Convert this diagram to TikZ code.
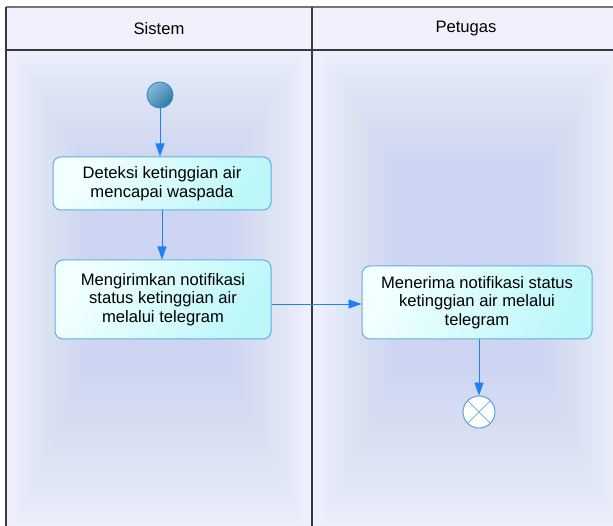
\documentclass[tikz,border=0pt]{standalone}
\usepackage{fontspec}
\setmainfont{Liberation Sans}
\usetikzlibrary{arrows.meta,calc}

\definecolor{lanebg}{HTML}{EDEFFC}
\definecolor{glowc}{HTML}{C3D0F2}
\definecolor{framec}{HTML}{3A3A3A}
\definecolor{boxedge}{HTML}{62AEDF}
\definecolor{boxlight}{HTML}{F2FFFF}
\definecolor{boxdark}{HTML}{BDF7FA}
\definecolor{flowc}{HTML}{1F80F5}
\definecolor{startlight}{HTML}{86BAD8}
\definecolor{startdark}{HTML}{2E7AA6}
\definecolor{startedge}{HTML}{3A86C6}
\definecolor{endedge}{HTML}{4A9AD8}
\definecolor{endcross}{HTML}{7DB8E2}

\tikzset{
  lane/.style={draw=framec, line width=1.3pt},
  glow/.style={fill=glowc, opacity=0.035},
  lanetitle/.style={font=\fontsize{16.6}{18}\selectfont, text=black},
  activity/.style={draw=boxedge, line width=1pt, rounded corners=8pt,
    left color=boxlight, right color=boxdark, shading angle=60,
    align=center, inner sep=0pt, text=black,
    font=\fontsize{16.6}{18.5}\selectfont},
  startnode/.style={circle, draw=startedge, line width=0.9pt, minimum size=26pt,
    inner sep=0pt, left color=startlight, right color=startdark, shading angle=45},
  endnode/.style={circle, draw=endedge, line width=0.9pt, fill=white,
    minimum size=32pt, inner sep=0pt},
  flow/.style={draw=flowc, line width=0.9pt,
    -{Triangle[length=13pt,width=9pt]}},
}

\begin{document}
\begin{tikzpicture}[x=1pt, y=-1pt]
  \useasboundingbox (0,0) rectangle (613,526);
  \fill[white] (0,0) rectangle (613,526);

  % swimlane backgrounds with soft inner glow
  \fill[lanebg] (6,7) rectangle (613,526);
  \foreach \i in {0,...,23}{
    \fill[glow] (16+3*\i, 56+4.5*\i) rectangle (302-3*\i, 522-6.5*\i);
    \fill[glow] (324+3*\i, 56+4.5*\i) rectangle (613-3*\i, 522-6.5*\i);
  }
  % header band
  \fill[lanebg!85!white] (6,7) rectangle (613,50);

  % frame and lane divider
  \draw[lane, draw=framec!70] (6,7) -- (613,7);
  \draw[lane] (6,526) -- (6,7);
  \draw[lane] (6,50) -- (613,50);
  \draw[lane] (312,7) -- (312,526);

  % lane titles
  \node[lanetitle] (sistem) at (159,29) {Sistem};
  \node[lanetitle] (petugas) at (466,29) {Petugas};

  % activities
  \node[startnode] (start) at (160,95) {};
  \node[activity, minimum width=218pt, minimum height=53pt] (deteksi) at (162,183.5)
    {Deteksi ketinggian air\\mencapai waspada};
  \node[activity, minimum width=216pt, minimum height=79pt] (kirim) at (163,299.5)
    {Mengirimkan notifikasi\\status ketinggian air\\melalui telegram};
  \node[activity, minimum width=230pt, minimum height=73pt] (terima) at (477,302.5)
    {Menerima notifikasi status\\ketinggian air melalui\\telegram};
  \node[endnode] (finish) at (479,412) {};
  \draw[endcross, line width=0.9pt]
    (finish.north west) -- (finish.south east)
    (finish.north east) -- (finish.south west);

  % control flow
  \coordinate (kirimout) at ($(kirim.east)+(0,4.5)$);
  \draw[flow] (start.south) -- (start.south |- deteksi.north);
  \draw[flow] (deteksi.south) -- (deteksi.south |- kirim.north);
  \draw[flow] (kirimout) -- (kirimout -| terima.west);
  \draw[flow] (finish.north |- terima.south) -- (finish.north);
\end{tikzpicture}
\end{document}
